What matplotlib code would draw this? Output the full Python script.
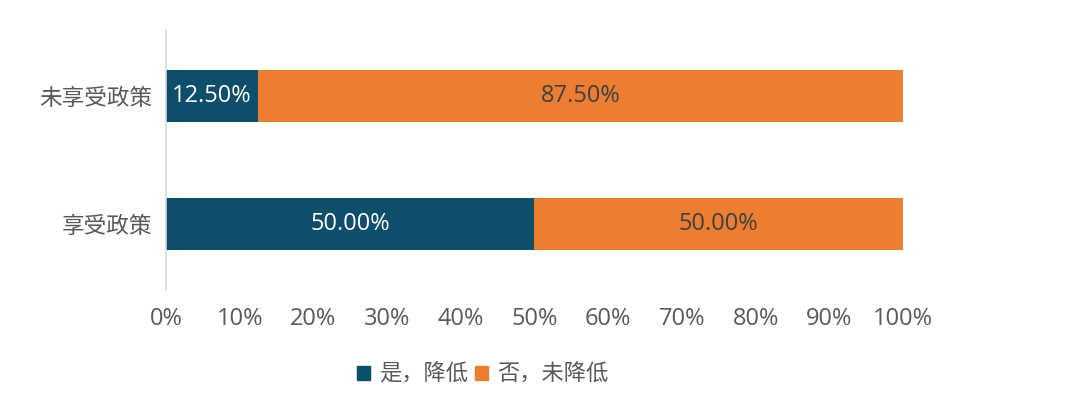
import matplotlib
matplotlib.use("Agg")
import matplotlib.pyplot as plt
from matplotlib.patches import Patch

plt.rcParams['font.family'] = ['Open Sans', 'Noto Sans CJK SC', 'DejaVu Sans']

# Data
categories = ["享受政策", "未享受政策"]
yes_vals = [50.00, 12.50]
no_vals = [50.00, 87.50]
series_names = ["是，降低", "否，未降低"]
xticks = [0, 10, 20, 30, 40, 50, 60, 70, 80, 90, 100]

c_yes = "#0D4F6B"
c_no = "#EC7D31"
txt_gray = "#595959"

fig = plt.figure(figsize=(10.8, 4.11), dpi=100)
ax = fig.add_axes([0.1537, 0.294, 0.6824, 0.633])

y = list(range(len(categories)))
h = 0.406
ax.barh(y, yes_vals, height=h, color=c_yes)
ax.barh(y, no_vals, left=yes_vals, height=h, color=c_no)

for i in y:
    ax.text(yes_vals[i] / 2, i, f"{yes_vals[i]:.2f}%", ha="center", va="center",
            color="white", fontsize=17)
    ax.text(yes_vals[i] + no_vals[i] / 2, i, f"{no_vals[i]:.2f}%", ha="center",
            va="center", color="#404040", fontsize=17)

ax.set_xlim(0, 100)
ax.set_ylim(-0.516, 1.516)
ax.set_xticks(xticks)
ax.set_xticklabels([f"{t}%" for t in xticks], fontsize=17, color=txt_gray)
ax.set_yticks(y)
ax.set_yticklabels(categories, fontsize=16.3, color=txt_gray)
ax.tick_params(axis="both", length=0)
ax.tick_params(axis="x", pad=12)
ax.tick_params(axis="y", pad=10)

for s in ["top", "right", "bottom"]:
    ax.spines[s].set_visible(False)
ax.spines["left"].set_color("#D9D9D9")
ax.spines["left"].set_linewidth(1.2)

handles = [Patch(color=c_yes), Patch(color=c_no)]
fig.legend(handles, series_names, loc="center", bbox_to_anchor=(0.447, 0.088),
           ncol=2, frameon=False, fontsize=16, handlelength=0.6, handleheight=0.6,
           handletextpad=0.4, columnspacing=0.3, labelcolor=txt_gray)

fig.savefig("out.png", dpi=100)
